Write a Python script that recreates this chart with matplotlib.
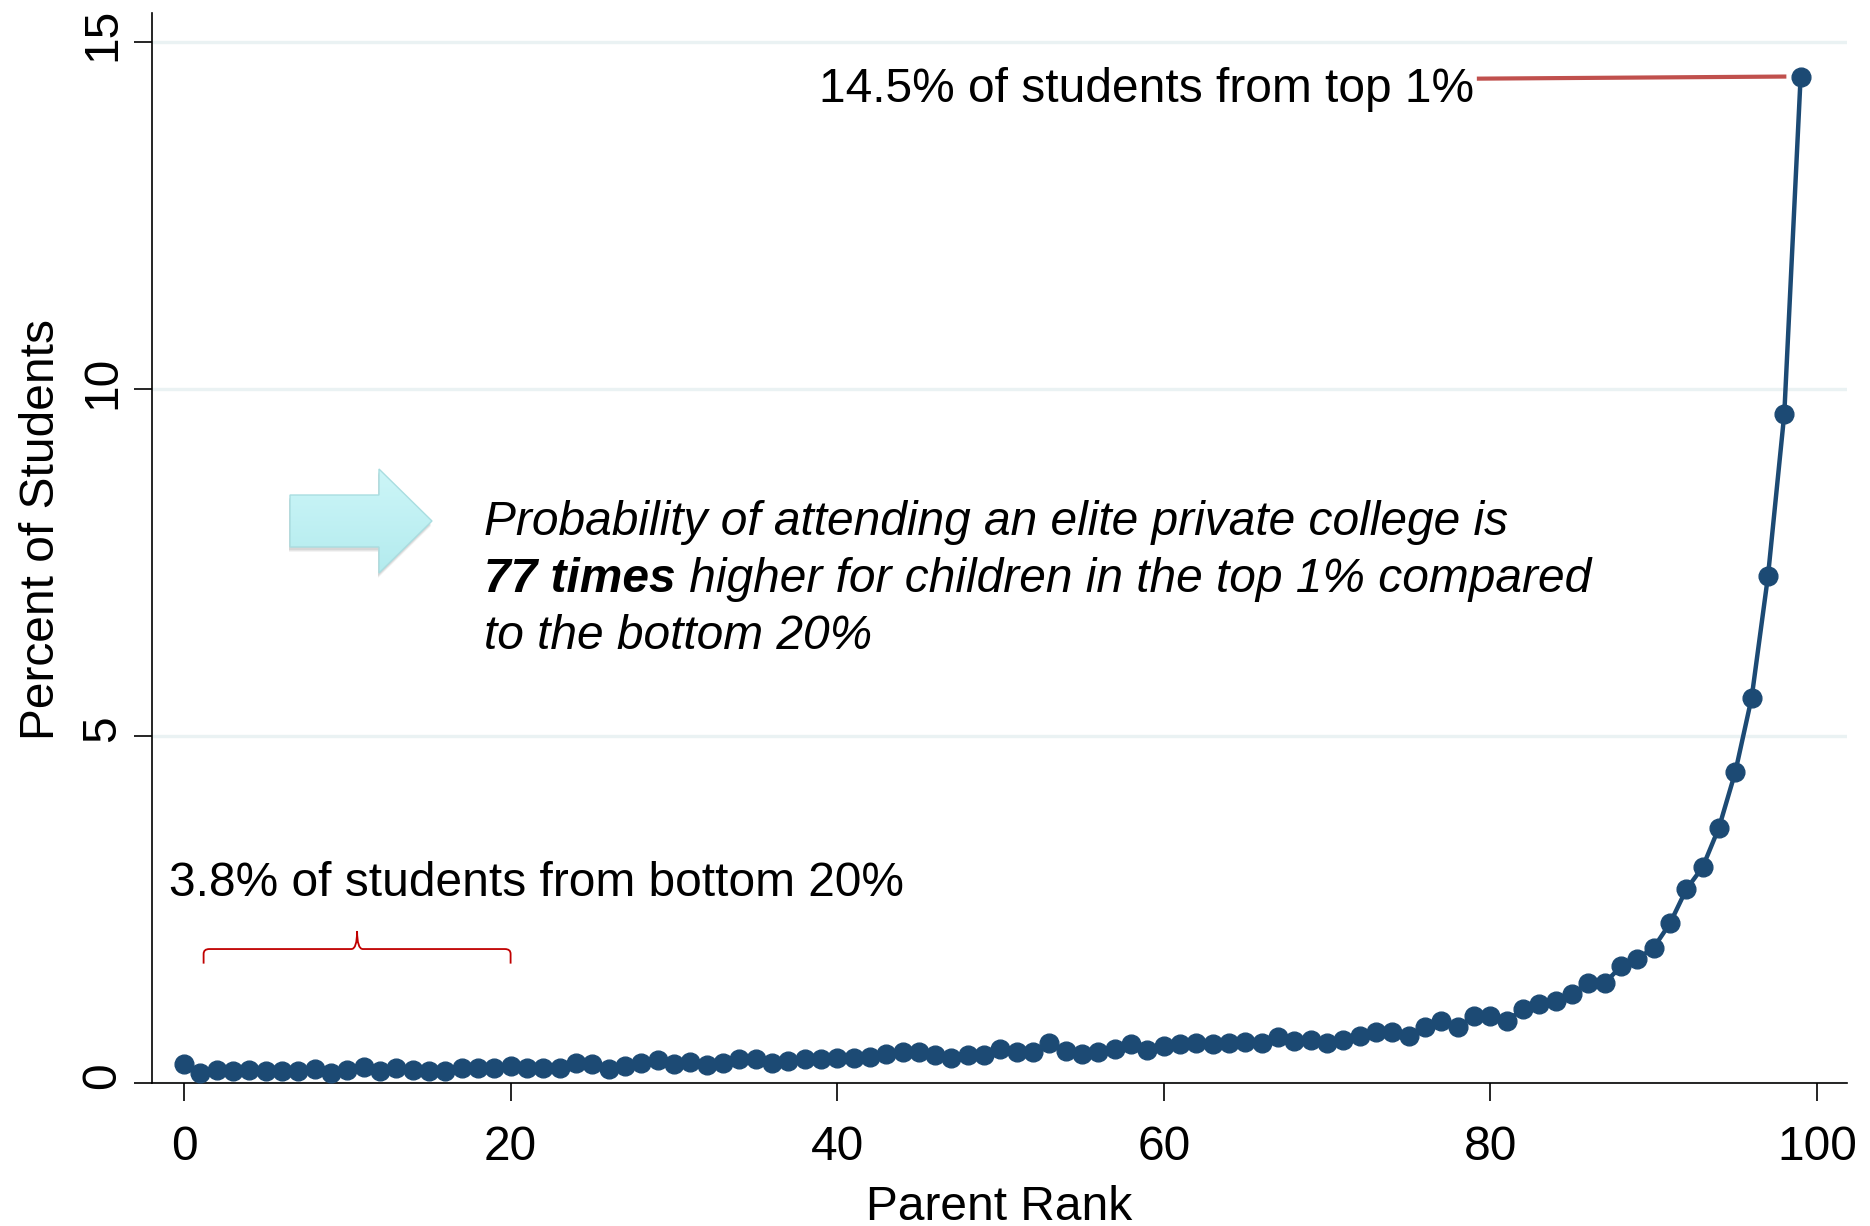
import numpy as np
import matplotlib
matplotlib.use('Agg')
import matplotlib.pyplot as plt
from matplotlib.patches import Polygon, PathPatch
from matplotlib.path import Path
from matplotlib.colors import LinearSegmentedColormap
import matplotlib.transforms as mtransforms

plt.rcParams['font.family'] = ['Liberation Sans', 'DejaVu Sans']

# data
parent_rank = list(range(100))
pct_students = [
    0.27, 0.14, 0.19, 0.18, 0.19, 0.18, 0.18, 0.18, 0.20, 0.15,
    0.19, 0.23, 0.17, 0.22, 0.19, 0.18, 0.17, 0.22, 0.22, 0.22,
    0.25, 0.21, 0.21, 0.22, 0.29, 0.27, 0.20, 0.25, 0.29, 0.33,
    0.28, 0.30, 0.26, 0.29, 0.34, 0.34, 0.29, 0.32, 0.34, 0.34,
    0.36, 0.36, 0.37, 0.42, 0.44, 0.45, 0.41, 0.36, 0.41, 0.41,
    0.49, 0.44, 0.44, 0.58, 0.46, 0.42, 0.45, 0.49, 0.56, 0.48,
    0.54, 0.56, 0.57, 0.56, 0.57, 0.59, 0.57, 0.66, 0.60, 0.62,
    0.57, 0.62, 0.68, 0.73, 0.74, 0.67, 0.80, 0.89, 0.81, 0.96,
    0.97, 0.90, 1.06, 1.14, 1.18, 1.28, 1.44, 1.44, 1.68, 1.79,
    1.95, 2.30, 2.79, 3.11, 3.68, 4.48, 5.55, 7.30, 9.64, 14.50,
]
x_ticks = [0, 20, 40, 60, 80, 100]
y_ticks = [0, 5, 10, 15]

FS = 34.5
W, H = 1870, 1226
fig = plt.figure(figsize=(W / 100, H / 100), dpi=100)
ax = fig.add_axes([152 / W, 1 - 1083 / H, (1847 - 152) / W, (1083 - 12.7) / H])

navy = '#1c4a74'
ax.plot(parent_rank, pct_students, color=navy, lw=3.2, marker='o', ms=13.5,
        zorder=3, clip_on=False)

ax.set_xlim(-1.96, 101.84)
ax.set_ylim(0, 15.42)
ax.set_xticks(x_ticks)
ax.set_yticks(y_ticks)
ax.yaxis.grid(True, color='#eaf2f3', lw=2.4)
ax.set_axisbelow(True)
for s in ['top', 'right']:
    ax.spines[s].set_visible(False)
for s in ['left', 'bottom']:
    ax.spines[s].set_linewidth(1.2)
ax.tick_params(axis='both', length=13, width=1.2, labelsize=FS, direction='out')
ax.tick_params(axis='x', pad=17)
ax.tick_params(axis='y', pad=6)
shift = mtransforms.ScaledTranslation(0, 7 / 100, fig.dpi_scale_trans)
for lab in ax.get_yticklabels():
    lab.set_rotation(90)
    lab.set_va('center')
    lab.set_transform(lab.get_transform() + shift)

ax.set_xlabel('Parent Rank', fontsize=FS)
ax.xaxis.set_label_coords(0.5, -0.095)
ax.set_ylabel('Percent of Students', fontsize=FS)
ax.yaxis.set_label_coords(-0.052, 0.517)

# top 1% annotation
ax.plot([79.3, 98.0], [14.47, 14.5], color='#c0504d', lw=3, zorder=2)
ax.text(79.0, 14.31, '14.5% of students from top 1%', ha='right', va='center',
        fontsize=FS)

# bottom 20% annotation + curly bracket
ax.text(-0.9, 2.87, '3.8% of students from bottom 20%', ha='left', va='center',
        fontsize=FS)
x0, x1, xm = 1.2, 20.0, 10.6
yb, yh, yp = 1.72, 1.93, 2.19
rx, ry = 0.35, 0.07
verts = [(x0, yb), (x0, yh - ry), (x0, yh), (x0 + rx, yh),
         (xm - rx, yh), (xm, yh), (xm, yp),
         (xm, yp), (xm, yh), (xm + rx, yh),
         (x1 - rx, yh), (x1, yh), (x1, yh - ry), (x1, yb)]
codes = [Path.MOVETO, Path.LINETO, Path.CURVE3, Path.CURVE3,
         Path.LINETO, Path.CURVE3, Path.CURVE3,
         Path.MOVETO, Path.CURVE3, Path.CURVE3,
         Path.LINETO, Path.CURVE3, Path.CURVE3, Path.LINETO]
ax.add_patch(PathPatch(Path(verts, codes), fill=False, edgecolor='#c00000',
                       lw=1.3, zorder=2))

# italic message
tx = 18.37
ax.text(tx, 8.08, 'Probability of attending an elite private college is',
        style='italic', fontsize=FS, va='center', ha='left')
t1 = ax.text(tx, 7.26, '77 times', style='italic', fontweight='bold',
             fontsize=FS, va='center', ha='left')
ax.annotate(' higher for children in the top 1% compared', xy=(1, 0.5),
            xycoords=t1, style='italic', fontsize=FS, va='center', ha='left')
ax.text(tx, 6.43, 'to the bottom 20%', style='italic', fontsize=FS,
        va='center', ha='left')

# block arrow on a pixel overlay
ov = fig.add_axes([0, 0, 1, 1])
ov.axis('off')
arrow_pts = [(290, 495), (379, 495), (379, 469), (432, 521), (379, 573),
             (379, 547), (290, 547)]
for k, a in [(5, 0.08), (4, 0.10), (3, 0.12)]:
    ov.add_patch(Polygon([(px - 1, py + k) for px, py in arrow_pts], closed=True,
                         facecolor='#707070', edgecolor='none', alpha=a))
arrow = Polygon(arrow_pts, closed=True, facecolor='none', edgecolor='#a9dde0',
                lw=1.0, zorder=3)
ov.add_patch(arrow)
grad = np.linspace(0, 1, 100).reshape(-1, 1)
cmap = LinearSegmentedColormap.from_list('cy', ['#cdf6f8', '#b3ebee'])
im = ov.imshow(grad, cmap=cmap, extent=[288, 434, 575, 467], aspect='auto',
               zorder=2)
im.set_clip_path(arrow)
ov.set_xlim(0, W)
ov.set_ylim(H, 0)

fig.savefig('out.png', dpi=100)
